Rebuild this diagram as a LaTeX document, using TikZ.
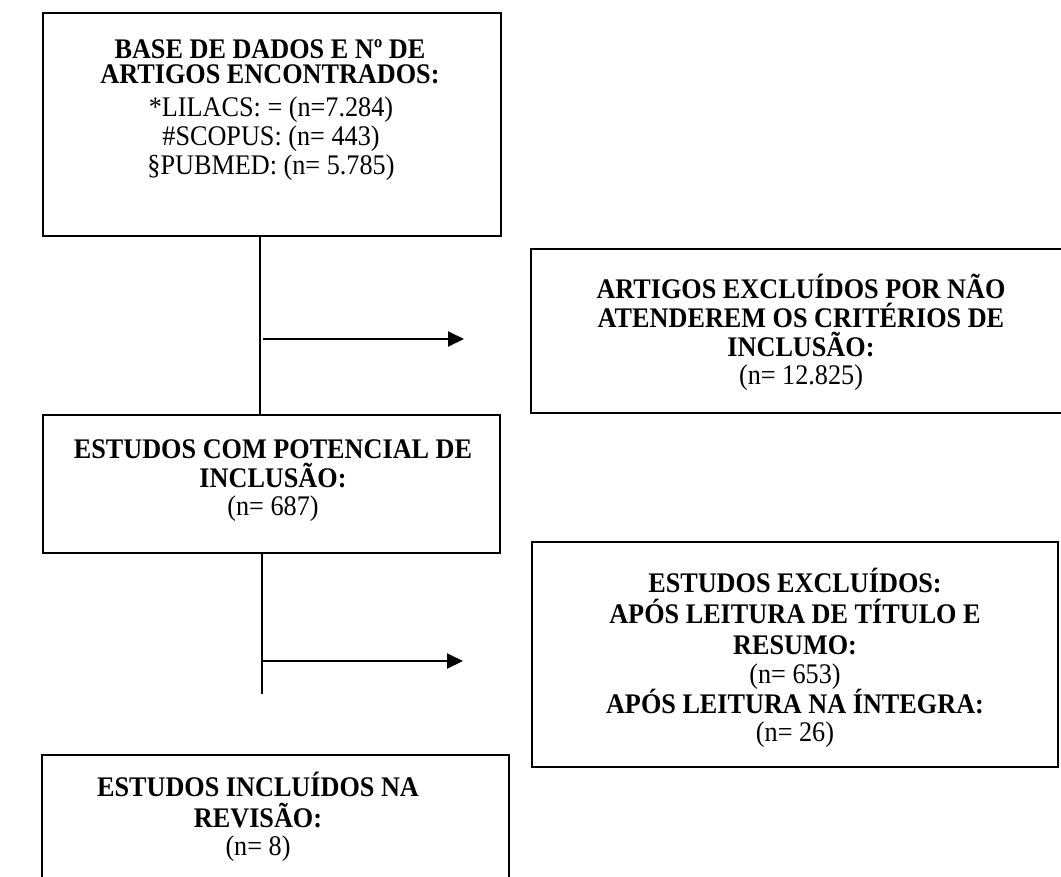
\documentclass[tikz,border=0pt]{standalone}
\usepackage{fontspec}
\setmainfont{Liberation Serif}
\usetikzlibrary{arrows.meta}
\begin{document}
\begin{tikzpicture}[x=1bp,y=-1bp,
  frame/.style={draw, line width=2.2bp, inner sep=0pt},
  ln/.style={anchor=base, inner sep=0pt, font=\fontsize{28.5}{29}\selectfont,
             xscale=0.923, transform shape},
  hd/.style={ln, font=\fontsize{28.5}{29}\selectfont\bfseries},
  link/.style={line width=1.9bp},
  flow/.style={link, -{Triangle[length=16bp,width=15bp]}}]

\clip (0,0) rectangle (1061,877);

% boxes
\node[frame, minimum width=458bp, minimum height=223bp] (b1) at (272,124.5) {};
\node[frame, minimum width=544bp, minimum height=164bp] (b3) at (803,331) {};
\node[frame, minimum width=457bp, minimum height=138bp] (b2) at (271.5,484) {};
\node[frame, minimum width=526bp, minimum height=225bp] (b4) at (795,654.5) {};
\node[frame, minimum width=467bp, minimum height=150bp] (b5) at (275.5,830) {};

% box texts
\node[hd] (b1l1) at (270,58)  {BASE DE DADOS E Nº DE};
\node[hd] (b1l2) at (270,83)  {ARTIGOS ENCONTRADOS:};
\node[ln] (b1l3) at (271,116) {*LILACS: = (n=7.284)};
\node[ln] (b1l4) at (271,145) {\#SCOPUS: (n= 443)};
\node[ln] (b1l5) at (271,174) {§PUBMED: (n= 5.785)};

\node[hd] (b3l1) at (801,298) {ARTIGOS EXCLUÍDOS POR NÃO};
\node[hd] (b3l2) at (801,327) {ATENDEREM OS CRITÉRIOS DE};
\node[hd] (b3l3) at (801,356) {INCLUSÃO:};
\node[ln] (b3l4) at (801,384) {(n= 12.825)};

\node[hd] (b2l1) at (273,458) {ESTUDOS COM POTENCIAL DE};
\node[hd] (b2l2) at (273,487) {INCLUSÃO:};
\node[ln] (b2l3) at (273,515) {(n= 687)};

\node[hd] (b4l1) at (795,592) {ESTUDOS EXCLUÍDOS:};
\node[hd] (b4l2) at (795,623) {APÓS LEITURA DE TÍTULO E};
\node[hd] (b4l3) at (795,654) {RESUMO:};
\node[ln] (b4l4) at (795,683) {(n= 653)};
\node[hd] (b4l5) at (795,713) {APÓS LEITURA NA ÍNTEGRA:};
\node[ln] (b4l6) at (795,741) {(n= 26)};

\node[hd] (b5l1) at (258,796) {ESTUDOS INCLUÍDOS NA};
\node[hd] (b5l2) at (258,827) {REVISÃO:};
\node[ln] (b5l3) at (258,855) {(n= 8)};

% connectors
\coordinate (c1) at (260,339);
\coordinate (e1) at (464,339);
\coordinate (c2) at (262,661);
\coordinate (e2) at (463,661);
\coordinate (d2) at (262,694);

\draw[link] (b1.south -| c1) -- (b2.north -| c1);
\draw[flow] ([xshift=3bp]c1) -- (e1);
\draw[link] (b2.south -| c2) -- (d2);
\draw[flow] (c2) -- (e2);
\end{tikzpicture}
\end{document}
